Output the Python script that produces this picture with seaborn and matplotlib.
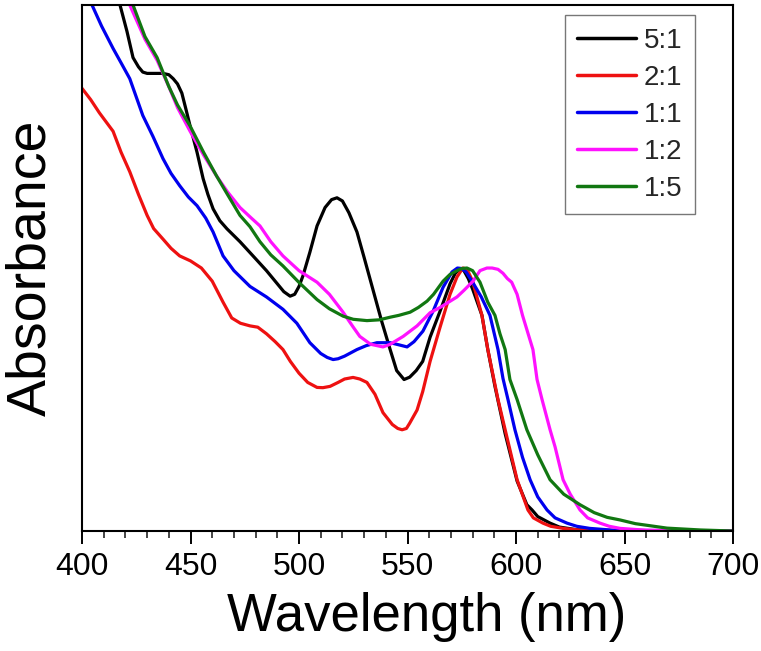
import pandas as pd
import matplotlib
matplotlib.use("Agg")
import matplotlib.pyplot as plt
import seaborn as sns
from matplotlib.ticker import MultipleLocator

# Absorbance spectra (normalised so the ~575 nm band = 1)
wl_51 = [416, 417.5, 420.7, 423.5, 426, 428, 430, 437.3, 440, 442, 444, 446, 448, 449.8,
         453, 455.8, 458, 460.4, 463.5, 466.8, 472.8, 478.8, 485, 490, 493, 495.9, 498,
         500, 501.8, 505, 508.3, 512, 515, 517.5, 520, 523, 526.7, 530, 534, 538, 542,
         545, 548.4, 551, 554, 557, 560.4, 565, 569.6, 572, 574.2, 576, 578, 580, 584.3,
         587, 590.3, 595, 600.5, 605, 607.4, 610, 615.7, 620, 628, 640, 700]
abs_51 = [2.06, 2.0, 1.9, 1.80, 1.765, 1.745, 1.74, 1.74, 1.735, 1.72, 1.70, 1.665, 1.6,
          1.54, 1.44, 1.34, 1.28, 1.225, 1.18, 1.149, 1.10, 1.046, 0.99, 0.94, 0.91, 0.893,
          0.9, 0.93, 0.97, 1.06, 1.16, 1.23, 1.26, 1.267, 1.255, 1.21, 1.137, 1.04, 0.92,
          0.8, 0.69, 0.61, 0.576, 0.585, 0.61, 0.645, 0.737, 0.836, 0.94, 0.98, 0.998,
          0.99, 0.96, 0.92, 0.82, 0.69, 0.55, 0.37, 0.19, 0.1, 0.08, 0.055, 0.03, 0.015,
          0.005, 0.001, 0.0]

wl_21 = [400, 404, 408, 414.3, 418, 422, 426, 430, 433, 437.3, 441, 445, 450, 455, 460,
         465, 469, 473, 477.4, 481, 485, 489, 492.6, 496, 500, 504, 508.3, 511, 514.3, 518,
         521, 524.9, 528, 531.3, 535, 538.7, 543, 545.5, 547.5, 549.5, 551, 554.4, 557,
         560.4, 565, 569.6, 572.8, 575.5, 577.4, 580, 584.3, 587, 591.7, 595, 600.5,
         605.5, 608, 612.4, 616, 621.7, 630, 700]
abs_21 = [1.683, 1.64, 1.59, 1.52, 1.44, 1.366, 1.28, 1.2, 1.15, 1.11, 1.075, 1.046,
          1.027, 1.0, 0.95, 0.87, 0.81, 0.79, 0.78, 0.775, 0.75, 0.72, 0.69, 0.645, 0.6,
          0.565, 0.546, 0.545, 0.55, 0.565, 0.578, 0.584, 0.578, 0.565, 0.52, 0.45, 0.405,
          0.39, 0.385, 0.39, 0.41, 0.46, 0.53, 0.645, 0.775, 0.9, 0.966, 1.0, 0.996, 0.95,
          0.82, 0.69, 0.5, 0.385, 0.195, 0.08, 0.05, 0.03, 0.018, 0.01, 0.003, 0.0]

wl_11 = [403, 404.6, 409, 414.3, 418, 422, 425, 428, 432.7, 437.3, 441, 445, 449, 453,
         457, 460.4, 465, 470, 477.4, 485, 492.6, 499, 505, 510, 513, 515.7, 518, 521,
         526.7, 531, 535.9, 542, 546, 549.8, 553, 557.1, 561.8, 566.4, 570.5, 573, 575,
         577, 580, 584, 588, 591.7, 594, 596.3, 599.5, 603, 606.5, 610, 614.3, 618, 623.5,
         628, 634, 645, 700]
abs_11 = [2.05, 2.0, 1.92, 1.835, 1.78, 1.72, 1.65, 1.58, 1.50, 1.416, 1.36, 1.313, 1.27,
          1.237, 1.19, 1.137, 1.046, 0.99, 0.93, 0.89, 0.843, 0.79, 0.716, 0.675, 0.66,
          0.652, 0.655, 0.665, 0.69, 0.705, 0.716, 0.716, 0.708, 0.70, 0.72, 0.76, 0.836,
          0.927, 0.985, 1.0, 0.998, 0.985, 0.946, 0.89, 0.82, 0.69, 0.58, 0.5, 0.385, 0.28,
          0.195, 0.13, 0.08, 0.05, 0.03, 0.018, 0.01, 0.003, 0.0]

wl_12 = [421, 422, 429, 434.6, 440, 444, 449.8, 456, 462, 467, 472.8, 478, 482, 487,
         492.6, 500, 508.3, 514, 520.3, 525, 528, 533, 538.7, 542, 548, 554.4, 560.4, 565,
         572.8, 576, 580.2, 583.4, 586.6, 589, 591.7, 594, 596, 598, 600.5, 603, 607.8,
         609.7, 612, 615.7, 618, 621.7, 625, 629.5, 633, 638.7, 643, 648, 660, 700]
abs_12 = [2.03, 2.0, 1.87, 1.79, 1.69, 1.61, 1.52, 1.43, 1.35, 1.29, 1.23, 1.19, 1.16,
          1.1, 1.046, 0.99, 0.946, 0.9, 0.832, 0.775, 0.74, 0.71, 0.70, 0.71, 0.74, 0.78,
          0.83, 0.85, 0.89, 0.915, 0.95, 0.99, 1.0, 1.0, 0.995, 0.98, 0.96, 0.946, 0.9,
          0.82, 0.69, 0.576, 0.5, 0.385, 0.32, 0.195, 0.14, 0.08, 0.05, 0.03, 0.018, 0.01,
          0.003, 0.0]

wl_15 = [422, 423.5, 429, 434.6, 440, 444, 449.8, 456, 462, 467, 472.8, 477.4, 482, 487,
         492.6, 500, 508.3, 514, 520.3, 525, 531.3, 537, 542, 546, 551.2, 555, 559, 562,
         566.4, 569.5, 572.8, 575, 577.4, 580, 583.4, 587, 590.3, 592.6, 595, 597.2,
         600.5, 605, 610, 615.7, 622, 629.5, 636, 642, 648, 655, 669.6, 685, 700]
abs_15 = [2.04, 2.0, 1.88, 1.80, 1.69, 1.62, 1.54, 1.44, 1.35, 1.28, 1.2, 1.157, 1.1,
          1.05, 1.008, 0.945, 0.88, 0.845, 0.817, 0.805, 0.80, 0.803, 0.813, 0.82, 0.832,
          0.85, 0.874, 0.9, 0.95, 0.975, 0.99, 0.998, 1.0, 0.99, 0.946, 0.87, 0.82, 0.75,
          0.69, 0.576, 0.5, 0.385, 0.29, 0.195, 0.14, 0.1, 0.07, 0.052, 0.042, 0.028,
          0.011, 0.004, 0.0]

labels = ["5:1", "2:1", "1:1", "1:2", "1:5"]
colors = ["#000000", "#ee1111", "#0000ee", "#ff11ff", "#117711"]

series = [(wl_51, abs_51), (wl_21, abs_21), (wl_11, abs_11), (wl_12, abs_12), (wl_15, abs_15)]
frames = []
for lab, (x, y) in zip(labels, series):
    frames.append(pd.DataFrame({"wavelength": x, "absorbance": y, "ratio": lab}))
df = pd.concat(frames, ignore_index=True)

sns.set_theme(style="white")
plt.rcParams["font.family"] = ["Liberation Sans", "DejaVu Sans"]

fig = plt.figure(figsize=(7.61, 6.51), dpi=100)
ax = fig.add_axes([0.1078, 0.1843, 0.8554, 0.808])

sns.lineplot(data=df, x="wavelength", y="absorbance", hue="ratio", hue_order=labels,
             palette=dict(zip(labels, colors)), estimator=None, sort=False,
             linewidth=2.3, ax=ax)

ax.set_xlim(400, 700)
ax.set_ylim(0, 2.0)
ax.xaxis.set_major_locator(MultipleLocator(50))
ax.xaxis.set_minor_locator(MultipleLocator(10))
ax.set_yticks([])
ax.tick_params(axis="x", which="major", direction="out", length=9, width=1.4,
               labelsize=23, pad=6, bottom=True, colors="black")
ax.tick_params(axis="x", which="minor", direction="out", length=5, width=1.2, bottom=True)
for sp in ax.spines.values():
    sp.set_color("black")
    sp.set_linewidth(1.5)

ax.set_xlabel("Wavelength (nm)", fontsize=38, color="black")
ax.set_ylabel("Absorbance", fontsize=40, color="black")
ax.xaxis.set_label_coords(0.53, -0.115)
ax.yaxis.set_label_coords(-0.038, 0.5)

leg = ax.legend(loc="upper right", bbox_to_anchor=(0.9416, 0.981), fontsize=20,
                frameon=True, fancybox=False, handlelength=2.1, handletextpad=0.3,
                labelspacing=0.4, borderpad=0.45, borderaxespad=0.0)
leg.get_frame().set_edgecolor("#555555")
leg.get_frame().set_linewidth(1.0)
for line in leg.get_lines():
    line.set_linewidth(2.5)

plt.savefig("out.png", dpi=100)
plt.close()
